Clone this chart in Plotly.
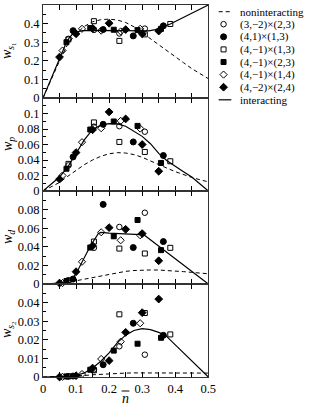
import plotly.graph_objects as go

# ---------------- data ----------------
series_labels = ["(3,\u22122)\u00d7(2,3)", "(4,1)\u00d7(1,3)", "(4,\u22121)\u00d7(1,3)",
                 "(4,\u22121)\u00d7(2,3)", "(4,\u22121)\u00d7(1,4)", "(4,\u22122)\u00d7(2,4)"]

n_A = [0.077, 0.154, 0.231, 0.308]
n_B = [0.091, 0.182, 0.273, 0.364]
n_C = [0.077, 0.154, 0.231, 0.308, 0.385]
n_D = [0.071, 0.143, 0.214, 0.286, 0.357]
n_E = [0.059, 0.118, 0.176, 0.235, 0.294]
n_F = [0.05, 0.10, 0.15, 0.20, 0.25, 0.30, 0.35]

ws1_A = [0.318, 0.366, 0.347, 0.373]
ws1_B = [0.362, 0.368, 0.334, 0.388]
ws1_C = [0.315, 0.413, 0.307, 0.342, 0.398]
ws1_D = [0.300, 0.376, 0.367, 0.365, 0.372]
ws1_E = [0.255, 0.372, 0.362, 0.358, 0.372]
ws1_F = [0.220, 0.345, 0.375, 0.402, 0.368, 0.345, 0.360]

wp_A = [0.033, 0.083, 0.0836, 0.0765]
wp_B = [0.044, 0.086, 0.0633, 0.0458]
wp_C = [0.035, 0.0885, 0.0633, 0.0504, 0.0384]
wp_D = [0.0287, 0.0793, 0.0897, 0.084, 0.0362]
wp_E = [0.020, 0.063, 0.081, 0.0905, 0.0806]
wp_F = [0.0153, 0.0496, 0.079, 0.102, 0.093, 0.060, 0.0255]

wd_A = [0.004, 0.0389, 0.0613, 0.0766]
wd_B = [0.0053, 0.0856, 0.0392, 0.0456]
wd_C = [0.0036, 0.0456, 0.0381, 0.0328, 0.0389]
wd_D = [0.0032, 0.0392, 0.0513, 0.0688, 0.0364]
wd_E = [0.001, 0.0239, 0.0556, 0.047, 0.0524]
wd_F = [0.001, 0.0132, 0.041, 0.0606, 0.0588, 0.0542, 0.025]

ws2_A = [0.0004, 0.004, 0.0165, 0.012]
ws2_B = [0.0005, 0.0066, 0.0289, 0.0224]
ws2_C = [0.0003, 0.0036, 0.0337, 0.0344, 0.0229]
ws2_D = [0.0003, 0.0039, 0.0142, 0.0179, 0.0211]
ws2_E = [0.0001, 0.0016, 0.0097, 0.019, 0.0289]
ws2_F = [0.0, 0.0007, 0.0048, 0.0088, 0.024, 0.0346, 0.0419]

# interacting (solid) curves
n_int_s1 = [0, 0.025, 0.05, 0.07, 0.08, 0.09, 0.1, 0.12, 0.15, 0.2, 0.25, 0.3, 0.32, 0.34, 0.36, 0.385, 0.5]
int_s1 = [0, 0.105, 0.21, 0.295, 0.325, 0.345, 0.355, 0.362, 0.364, 0.362, 0.361, 0.359, 0.361, 0.368, 0.38, 0.398, 0.5]
n_int_p = [0, 0.025, 0.05, 0.075, 0.1, 0.125, 0.15, 0.175, 0.2, 0.225, 0.25, 0.275, 0.3, 0.325,
           0.35, 0.375, 0.4, 0.425, 0.45, 0.475, 0.5]
int_p = [0, 0.009, 0.018, 0.031, 0.048, 0.066, 0.0795, 0.085, 0.087, 0.0865, 0.0835, 0.0775, 0.0705, 0.061,
         0.0485, 0.039, 0.0315, 0.025, 0.018, 0.0093, 0]
n_int_d = [0, 0.05, 0.075, 0.09, 0.1, 0.118, 0.142, 0.167, 0.175, 0.2, 0.25, 0.28, 0.294, 0.3, 0.5]
int_d = [0, 0.001, 0.003, 0.0065, 0.011, 0.0239, 0.040, 0.054, 0.0555, 0.0548, 0.0538, 0.0532, 0.0530, 0.0542, 0]
n_int_s2 = [0, 0.05, 0.075, 0.1, 0.125, 0.15, 0.175, 0.2, 0.225, 0.25, 0.275, 0.3, 0.325, 0.35, 0.37, 0.5]
int_s2 = [0, 0, 0.0003, 0.0008, 0.0022, 0.0048, 0.0085, 0.013, 0.0185, 0.0225, 0.025, 0.026, 0.0255, 0.024, 0.0225, 0]

# noninteracting (dashed) curves
n_non = [0, 0.025, 0.05, 0.075, 0.1, 0.125, 0.15, 0.175, 0.2, 0.225, 0.25, 0.275, 0.3, 0.325,
         0.35, 0.375, 0.4, 0.425, 0.45, 0.475, 0.5]
non_s1 = [0, 0.1, 0.2, 0.29, 0.345, 0.385, 0.41, 0.421, 0.424, 0.419, 0.406, 0.383, 0.35, 0.317,
          0.284, 0.252, 0.221, 0.19, 0.158, 0.131, 0.104]
non_p = [0, 0.005, 0.011, 0.019, 0.027, 0.034, 0.040, 0.0448, 0.048, 0.0495, 0.049, 0.047, 0.0435, 0.0385,
         0.034, 0.0295, 0.025, 0.021, 0.0175, 0.0145, 0.0118]
non_d = [0, 0.0003, 0.0008, 0.0018, 0.0035, 0.005, 0.0065, 0.0085, 0.0104, 0.0122, 0.0136, 0.0145, 0.015,
         0.0151, 0.015, 0.0146, 0.014, 0.0133, 0.0125, 0.0117, 0.011]
non_s2 = [0, 0.0001, 0.0002, 0.0003, 0.0004, 0.0008, 0.0012, 0.0015, 0.0018, 0.002, 0.0021, 0.0022, 0.0022,
          0.0022, 0.0022, 0.0022, 0.0022, 0.0022, 0.0022, 0.0021, 0.0021]

x_ticks = [0, 0.1, 0.2, 0.3, 0.4, 0.5]
y_ticks = [[0, 0.1, 0.2, 0.3, 0.4, 0.5],
           [0, 0.02, 0.04, 0.06, 0.08, 0.1],
           [0, 0.02, 0.04, 0.06, 0.08],
           [0, 0.01, 0.02, 0.03, 0.04]]
y_ranges = [[0, 0.5], [0, 0.12], [0, 0.1], [0, 0.05]]
y_minor = [0.05, 0.01, 0.01, 0.005]
y_titles = ["<i>w</i><sub><i>s</i><sub>1</sub></sub>", "<i>w</i><sub><i>p</i></sub>",
            "<i>w</i><sub><i>d</i></sub>", "<i>w</i><sub><i>s</i><sub>2</sub></sub>"]

# ---------------- styling ----------------
FONT = "Liberation Serif, Times New Roman, serif"
symbols = ["circle-open", "circle", "square-open", "square", "diamond-open", "diamond"]
sizes = [5.5, 6, 5, 5, 5.5, 6]

n_series = [n_A, n_B, n_C, n_D, n_E, n_F]
panels = [
    ([ws1_A, ws1_B, ws1_C, ws1_D, ws1_E, ws1_F], n_int_s1, int_s1, non_s1),
    ([wp_A, wp_B, wp_C, wp_D, wp_E, wp_F], n_int_p, int_p, non_p),
    ([wd_A, wd_B, wd_C, wd_D, wd_E, wd_F], n_int_d, int_d, non_d),
    ([ws2_A, ws2_B, ws2_C, ws2_D, ws2_E, ws2_F], n_int_s2, int_s2, non_s2),
]

W, H = 316, 406
ML, MR, MT, MB = 43, 0, 5, 29
PW, PH = W - ML - MR, H - MT - MB
x_right = (213.3 - ML) / PW

fig = go.Figure()

for i, (vals, n_int, y_int, y_non) in enumerate(panels):
    xa = "x" if i == 0 else f"x{i+1}"
    ya = "y" if i == 0 else f"y{i+1}"
    fig.add_trace(go.Scatter(x=n_non, y=y_non, mode="lines", xaxis=xa, yaxis=ya,
                             line=dict(color="black", width=1, dash="4px,3px"), showlegend=False))
    fig.add_trace(go.Scatter(x=n_int, y=y_int, mode="lines", xaxis=xa, yaxis=ya,
                             line=dict(color="black", width=1.2), showlegend=False))
    for k in range(6):
        fig.add_trace(go.Scatter(x=n_series[k], y=vals[k], mode="markers", xaxis=xa, yaxis=ya,
                                 marker=dict(symbol=symbols[k], size=sizes[k], color="black",
                                             line=dict(color="black", width=1)),
                                 showlegend=False, cliponaxis=False))

# axes
layout = {}
for i in range(4):
    suffix = "" if i == 0 else str(i + 1)
    top = 1 - i * 0.25
    bot = top - 0.25
    layout["xaxis" + suffix] = dict(
        domain=[0, x_right], anchor="y" + suffix, range=[0, 0.5],
        tickvals=x_ticks, ticks="inside", ticklen=5, tickcolor="black",
        showticklabels=(i == 3), showgrid=False, zeroline=False,
        showline=True, linecolor="#333", linewidth=1, mirror="allticks",
        minor=dict(dtick=0.05, tick0=0, ticks="inside", ticklen=5, tickcolor="black"),
        tickfont=dict(family=FONT, size=12.5, color="black"),
        **({} if i == 0 else {"matches": "x"}))
    layout["yaxis" + suffix] = dict(
        domain=[bot, top], anchor="x" + suffix, range=y_ranges[i],
        tickvals=y_ticks[i], ticks="inside", ticklen=5, tickcolor="black",
        showgrid=False, zeroline=False, showline=True, linecolor="#333", linewidth=1, mirror=True,
        minor=dict(dtick=y_minor[i], tick0=0, ticks="inside", ticklen=3, tickcolor="black"),
        tickfont=dict(family=FONT, size=12.5, color="black"))

# legend axis (pixel coordinates)
LX0, LX1, LY0, LY1 = 216, 316, 5, 112
layout["xaxis5"] = dict(domain=[(LX0 - ML) / PW, 1], anchor="y5", range=[LX0, LX1], visible=False)
layout["yaxis5"] = dict(domain=[(H - MB - LY1) / PH, 1], anchor="x5", range=[LY1, LY0], visible=False)

fig.update_layout(**layout)

legend_rows = [11.7, 24.2, 36.8, 49.4, 62.0, 74.6, 87.2, 99.8]
sym_x = [224, 237]
fig.add_trace(go.Scatter(x=sym_x, y=[legend_rows[0]] * 2, mode="lines", xaxis="x5", yaxis="y5",
                         line=dict(color="black", width=1, dash="4px,3px"), showlegend=False))
for k in range(6):
    fig.add_trace(go.Scatter(x=[229], y=[legend_rows[k + 1]], mode="markers", xaxis="x5", yaxis="y5",
                             marker=dict(symbol=symbols[k], size=sizes[k], color="black",
                                         line=dict(color="black", width=1)),
                             showlegend=False, cliponaxis=False))
fig.add_trace(go.Scatter(x=sym_x, y=[legend_rows[7]] * 2, mode="lines", xaxis="x5", yaxis="y5",
                         line=dict(color="black", width=1.2), showlegend=False))

legend_texts = ["noninteracting"] + series_labels + ["interacting"]
annotations = []
for t, yy in zip(legend_texts, legend_rows):
    annotations.append(dict(x=244, y=yy, xref="x5", yref="y5", text=t, showarrow=False,
                            xanchor="left", yanchor="middle",
                            font=dict(family=FONT, size=11, color="black")))

# y titles
centers_px = [51, 144, 237, 330]
for t, cy in zip(y_titles, centers_px):
    annotations.append(dict(x=(7 - ML) / PW, y=(H - MB - cy) / PH, xref="paper", yref="paper",
                            text=t, showarrow=False, textangle=-90, xanchor="center", yanchor="middle",
                            font=dict(family=FONT, size=14, color="black")))
# x title: italic n with an overbar
annotations.append(dict(x=(128 - ML) / PW, y=(H - MB - 398) / PH, xref="paper", yref="paper",
                        text="<i>n</i>", showarrow=False, xanchor="center", yanchor="middle",
                        font=dict(family=FONT, size=14, color="black")))
shapes = [dict(type="line", xref="paper", yref="paper",
               x0=(124 - ML) / PW, x1=(132 - ML) / PW,
               y0=(H - MB - 391) / PH, y1=(H - MB - 391) / PH,
               line=dict(color="black", width=1))]

fig.update_layout(
    width=W, height=H, margin=dict(l=ML, r=MR, t=MT, b=MB),
    paper_bgcolor="white", plot_bgcolor="white",
    showlegend=False, annotations=annotations, shapes=shapes,
    font=dict(family=FONT, color="black"),
)

fig.write_html("out.html", config={"displayModeBar": False, "staticPlot": True},
               post_script="document.body.style.margin='0px';document.body.style.overflow='hidden';")
